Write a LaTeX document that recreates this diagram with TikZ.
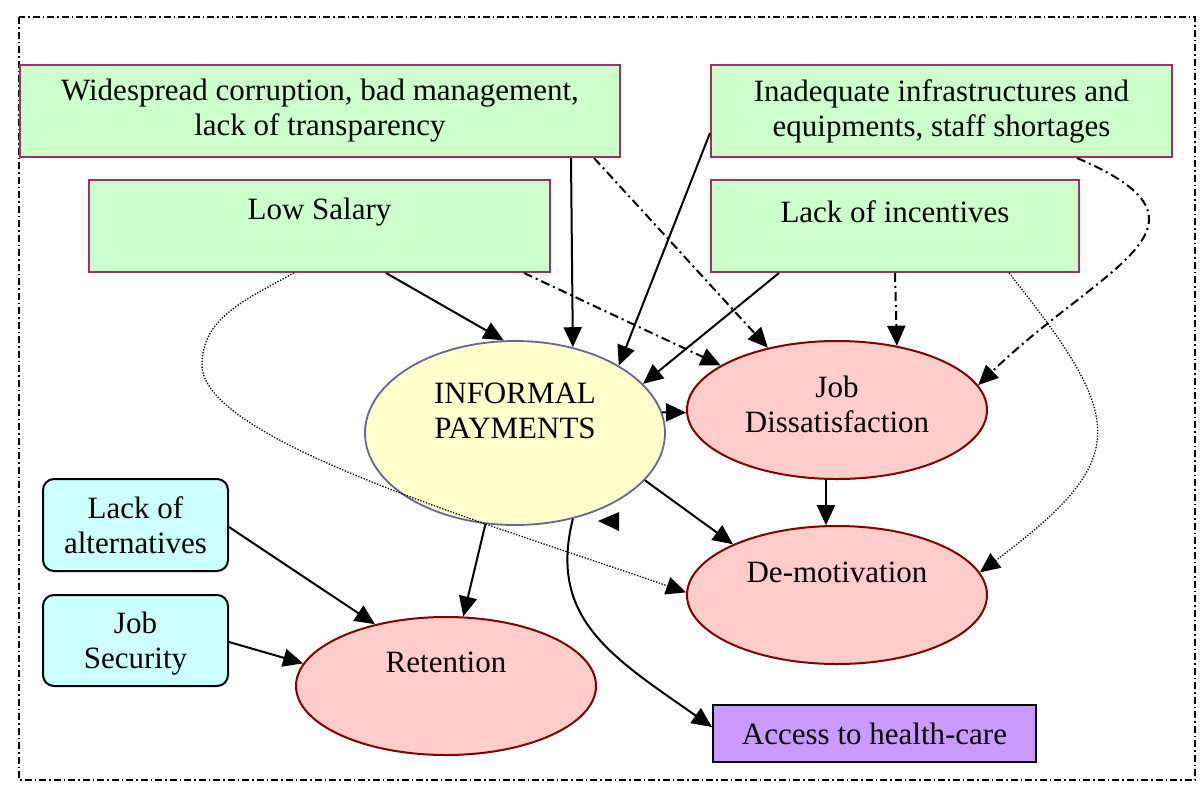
\documentclass[tikz,border=0pt]{standalone}
\usepackage{fontspec}
\setmainfont{Liberation Serif}
\usetikzlibrary{arrows.meta,shapes.geometric}
\definecolor{boxgreen}{HTML}{CCFFCC}
\definecolor{boxedge}{HTML}{993366}
\definecolor{ipfill}{HTML}{FFFFCC}
\definecolor{ipedge}{HTML}{666699}
\definecolor{pinkfill}{HTML}{FFCCCC}
\definecolor{pinkedge}{HTML}{800000}
\definecolor{cyanfill}{HTML}{CCFFFF}
\definecolor{purplefill}{HTML}{CC99FF}
\newcommand\lblfont{\fontsize{31}{35}\selectfont}
\begin{document}
\begin{tikzpicture}[x=1pt,y=-1pt,
  greenbox/.style={draw=boxedge, fill=boxgreen, line width=2pt, minimum height=92pt, inner sep=0pt},
  cyanbox/.style={draw=black, fill=cyanfill, line width=2pt, rounded corners=11pt, minimum width=185pt, inner sep=0pt},
  pinkell/.style={ellipse, draw=pinkedge, fill=pinkfill, line width=2pt, minimum width=300pt, minimum height=138pt, inner sep=0pt},
  ipell/.style={ellipse, draw=ipedge, fill=ipfill, line width=1.8pt, minimum width=300pt, minimum height=184pt, inner sep=0pt},
  purplebox/.style={draw=black, fill=purplefill, line width=2pt, minimum width=323pt, minimum height=57pt, inner sep=0pt},
  txt/.style={font=\lblfont, align=center, inner sep=0pt},
  arr/.style={-{Triangle[length=20pt,width=18pt]}, line width=2pt},
  dd/.style={arr, dash pattern=on 9pt off 4pt on 2pt off 4pt},
  dots/.style={arr, line width=1.3pt, dash pattern=on 1.3pt off 1.6pt},
  frame/.style={line width=1.8pt, dash pattern=on 7pt off 3pt on 1.5pt off 3pt},
]
\useasboundingbox (0,0) rectangle (1200,796);
\draw[frame] (19,17) rectangle (1195,780);

% shapes
\node[greenbox, minimum width=600pt] (b1) at (320,111) {};
\node[greenbox, minimum width=461pt] (b2) at (941.5,111) {};
\node[greenbox, minimum width=461pt] (b3) at (319.5,226) {};
\node[greenbox, minimum width=368pt] (b4) at (895,226) {};
\node[ipell] (ip) at (515,433) {};
\node[pinkell] (jd) at (837,410) {};
\node[pinkell] (dm) at (837,595) {};
\node[pinkell] (ret) at (446,686) {};
\node[cyanbox, minimum height=92pt] (la) at (135.5,525) {};
\node[cyanbox, minimum height=91pt] (js) at (135.5,640.5) {};
\node[purplebox] (ah) at (874.5,733.5) {};

% texts
\node[txt] (b1t) at (b1.center) {Widespread corruption, bad management,\\lack of transparency};
\node[txt] (b2t) at (b2.center) {Inadequate infrastructures and\\equipments, staff shortages};
\node[txt] (b3t) at ([yshift=14pt]b3.center) {Low Salary};
\node[txt] (b4t) at ([yshift=14pt]b4.center) {Lack of incentives};
\node[txt] (ipt) at ([yshift=22pt]ip.center) {INFORMAL\\PAYMENTS};
\node[txt] (jdt) at ([yshift=6pt]jd.center) {Job\\Dissatisfaction};
\node[txt] (dmt) at ([yshift=22.5pt]dm.center) {De-motivation};
\node[txt] (rett) at ([yshift=23.5pt]ret.center) {Retention};
\node[txt] (lat) at (la.center) {Lack of\\alternatives};
\node[txt] (jst) at ([yshift=-3.5pt]js.center) {Job\\Security};
\node[txt] (aht) at (ah.center) {Access to health-care};

% connectors
\draw[arr] ([xshift=552pt]b1.south west) -- (ip.56.2);
\draw[dd] ([xshift=575pt]b1.south west) -- (jd.138.8);
\draw[arr] ([yshift=-22pt]b2.west) -- (ip.33.7);
\draw[arr] ([xshift=298pt]b3.south west) -- (ip.97.5);
\draw[dd] ([xshift=436pt]b3.south west) -- (jd.159.7);
\draw[arr] ([xshift=69pt]b4.south west) -- (ip.21.5);
\draw[dd] (b4.south) -- (jd.47.6);
\draw[dd] ([xshift=367pt]b2.south west) .. controls +(157,67) and +(123,-119) .. (jd.10);
\draw[dots] ([xshift=299pt]b4.south west) .. controls +(118,148) and +(152,-114) .. (dm.9.5);
\draw[dots] ([xshift=206pt]b3.south west) .. controls (240,302) and (202,320) .. (202,365) .. controls (202,440) and (487,523) .. (dm.179);
\draw[arr] (ip.8) -- (jd.181);
\draw[arr] (ip.-20.7) -- (dm.154.5);
\draw[arr] (jd.-99.9) -- (dm.99.9);
\draw[arr] (ip.-108.3) -- (ret.76);
\draw[arr] ([yshift=-2pt]la.east) -- (ret.139.7);
\draw[arr] ([yshift=-1.5pt]js.east) -- (ret.171);
\draw[arr] (ip.-56) .. controls +(-25,100) and +(-100,-70) .. ([yshift=6.5pt]ah.west);
\fill (598,521) -- (619,512) -- (619,531) -- cycle;
\end{tikzpicture}
\end{document}
